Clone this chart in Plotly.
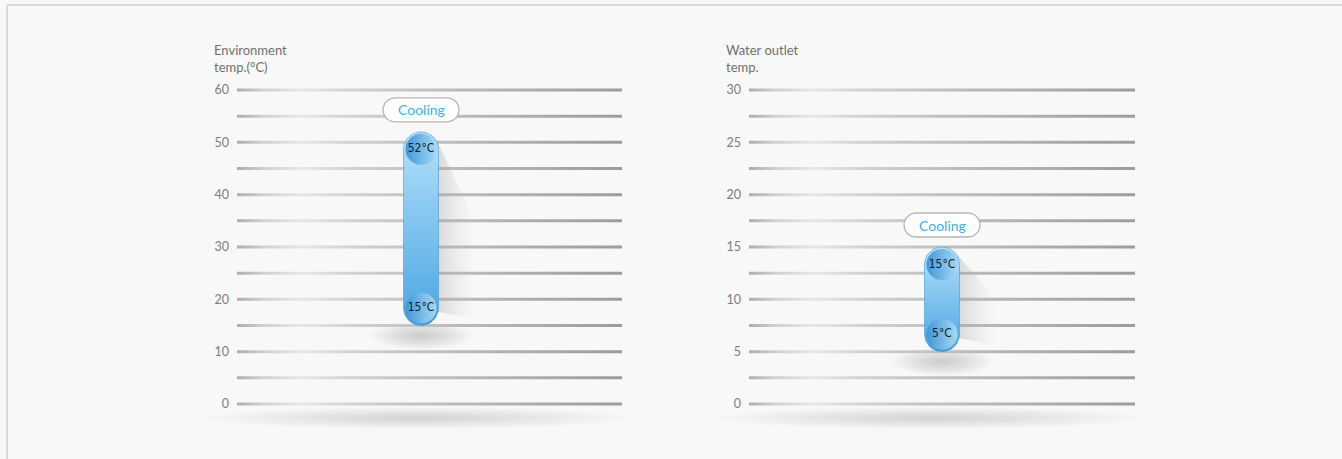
import numpy as np
import plotly.graph_objects as go

# ---------------- data ----------------
axis_titles = ["Environment<br>temp.(°C)", "Water outlet<br>temp."]
mode_labels = ["Cooling", "Cooling"]
low_values = [15, 5]
high_values = [52, 15]
tick_values = [[0, 10, 20, 30, 40, 50, 60], [0, 5, 10, 15, 20, 25, 30]]
grid_steps = [5, 2.5]
axis_max = [60, 30]
unit = "°C"

# ---------------- geometry / style ----------------
W, H = 1342, 459
BG = "#f7f8f7"
plot_left = [237, 749]
plot_right = [622, 1135]
bar_center_px = [421, 942]
Y0_PX, YTOP_PX = 404, 90          # pixel rows of 0 and axis max
DOM_BOT_PX, DOM_TOP_PX = 456, 48  # pixel rows of subplot domain
PILL_R = 17.5
FONT = "Lato"

fig = go.Figure()


def px2paper_x(px):
    return px / W


def px2paper_y(py):
    return 1 - py / H


def add_ellipse_shadow(cx, cy, w, h, layers, alpha, color="120,120,120"):
    for i in range(layers):
        f = 1 - i / layers
        fig.add_shape(type="circle", xref="paper", yref="paper",
                      x0=px2paper_x(cx - w * f / 2), x1=px2paper_x(cx + w * f / 2),
                      y0=px2paper_y(cy + h * f / 2), y1=px2paper_y(cy - h * f / 2),
                      fillcolor=f"rgba({color},{alpha})", line_width=0, layer="below")


layout_axes = {}
for k in range(2):
    xa = "x" if k == 0 else "x2"
    ya = "y" if k == 0 else "y2"
    ppu = (Y0_PX - YTOP_PX) / axis_max[k]
    L = plot_right[k] - plot_left[k]
    ymin = -(DOM_BOT_PX - Y0_PX) / ppu
    ymax = axis_max[k] + (YTOP_PX - DOM_TOP_PX) / ppu
    sfx = "" if k == 0 else "2"
    layout_axes["xaxis" + sfx] = dict(domain=[plot_left[k] / W, plot_right[k] / W], range=[0, L],
                                      visible=False, fixedrange=True, anchor=ya)
    layout_axes["yaxis" + sfx] = dict(domain=[1 - DOM_BOT_PX / H, 1 - DOM_TOP_PX / H], range=[ymin, ymax],
                                      tickvals=tick_values[k], ticktext=[str(v) for v in tick_values[k]],
                                      showgrid=False, zeroline=False, showline=False, ticks="",
                                      ticklabelstandoff=7, anchor=xa,
                                      tickfont=dict(family=FONT, size=12.5, color="#7d7f7d"), fixedrange=True)

    # gradient gridlines
    gx, gy = [], []
    hh = 1.5 / ppu
    for v in np.arange(0, axis_max[k] + 1e-9, grid_steps[k]):
        gx += [0, L, L, 0, 0, None]
        gy += [v - hh, v - hh, v + hh, v + hh, v - hh, None]
    fig.add_trace(go.Scatter(x=gx, y=gy, xaxis=xa, yaxis=ya, mode="lines", fill="toself",
                             line=dict(width=0), hoverinfo="skip", showlegend=False,
                             fillgradient=dict(type="horizontal", colorscale=[
                                 [0, "#abadab"], [0.07, "#d0d2d0"], [0.17, "#e6e7e6"],
                                 [0.3, "#d0d2d0"], [0.55, "#babdba"], [1, "#9a9e9b"]])))

    cx = bar_center_px[k] - plot_left[k]
    lo, hi = low_values[k], high_values[k]
    top_px = Y0_PX - hi * ppu
    bot_px = Y0_PX - lo * ppu
    cx_px = bar_center_px[k]

    # shadow under whole chart
    add_ellipse_shadow((plot_left[k] + plot_right[k]) / 2 - 12, 418, 420, 22, 12, 0.022)
    # shadow under the bar
    add_ellipse_shadow(cx_px, bot_px + 10, 100, 28, 12, 0.03)

    # diagonal cast shadow
    xr = cx + PILL_R - 2
    hpx = bot_px - top_px
    sx = [xr, xr + 40, xr + 40, xr]
    sy = [hi - 8 / ppu, hi - (8 + 0.43 * hpx) / ppu, lo + 6 / ppu, lo + 14 / ppu]
    fig.add_trace(go.Scatter(x=sx + [sx[0]], y=sy + [sy[0]], xaxis=xa, yaxis=ya, mode="lines",
                             fill="toself", line=dict(width=0), hoverinfo="skip", showlegend=False,
                             fillgradient=dict(type="horizontal", colorscale=[
                                 [0, "rgba(150,150,150,0.32)"], [0.5, "rgba(170,170,170,0.15)"],
                                 [1, "rgba(190,190,190,0)"]])))

    # the range pill
    ry = PILL_R / ppu
    t = np.linspace(0, np.pi, 30)
    px_ = np.concatenate([cx + PILL_R * np.cos(t), cx + PILL_R * np.cos(t + np.pi), [cx + PILL_R]])
    py_ = np.concatenate([(hi - ry) + ry * np.sin(t), (lo + ry) + ry * np.sin(t + np.pi), [hi - ry]])
    fig.add_trace(go.Scatter(x=px_, y=py_, xaxis=xa, yaxis=ya, mode="lines", fill="toself",
                             line=dict(width=1, color="rgba(60,150,215,0.55)"),
                             hoverinfo="skip", showlegend=False,
                             fillgradient=dict(type="vertical", colorscale=[
                                 [0, "#3a9bdc"], [0.12, "#55ade5"], [0.5, "#7ec3ef"],
                                 [0.85, "#a4d8f5"], [1, "#b2def7"]])))

    # end circles with labels
    fig.add_trace(go.Scatter(x=[cx, cx], y=[hi - ry, lo + ry], xaxis=xa, yaxis=ya,
                             mode="markers+text", text=[f"{hi}{unit}", f"{lo}{unit}"],
                             textposition="middle center",
                             textfont=dict(family="DejaVu Sans Condensed, DejaVu Sans", size=12, color="#1c1c1c"),
                             marker=dict(size=31, color="#3f98d8", line=dict(width=0),
                                         gradient=dict(type="horizontal", color="#a6d8f4")),
                             hoverinfo="skip", showlegend=False))

    # "Cooling" label pill
    lcy = hi + 22 / ppu
    lw, lr = 38, 12
    lry = lr / ppu
    t2 = np.linspace(-np.pi / 2, np.pi / 2, 20)
    lx = np.concatenate([cx + (lw - lr) + lr * np.cos(t2), cx - (lw - lr) + lr * np.cos(t2 + np.pi)])
    ly = np.concatenate([lcy + lry * np.sin(t2), lcy + lry * np.sin(t2 + np.pi)])
    lx = np.append(lx, lx[0])
    ly = np.append(ly, ly[0])
    fig.add_trace(go.Scatter(x=lx, y=ly, xaxis=xa, yaxis=ya, mode="lines", fill="toself",
                             fillcolor="#ffffff", line=dict(width=1.3, color="#b4b6b4"),
                             hoverinfo="skip", showlegend=False))
    fig.add_annotation(x=cx, y=lcy, xref=xa, yref=ya, text=mode_labels[k], showarrow=False,
                       font=dict(family=FONT, size=14, color="#3ab2e6"))

    # axis title
    fig.add_annotation(x=px2paper_x(plot_left[k] - 25), y=px2paper_y(40), xref="paper", yref="paper",
                       xanchor="left", yanchor="top", align="left", text=axis_titles[k], showarrow=False,
                       font=dict(family=FONT, size=13, color="#6f716f"))

# frame border (top and left)
fig.add_shape(type="line", xref="paper", yref="paper", x0=px2paper_x(7), x1=1,
              y0=px2paper_y(5), y1=px2paper_y(5), line=dict(color="#d9dad9", width=2), layer="below")
fig.add_shape(type="line", xref="paper", yref="paper", x0=px2paper_x(7), x1=px2paper_x(7),
              y0=px2paper_y(5), y1=0, line=dict(color="#d9dad9", width=2), layer="below")

fig.update_layout(width=W, height=H, margin=dict(l=0, r=0, t=0, b=0),
                  paper_bgcolor=BG, plot_bgcolor=BG, showlegend=False, **layout_axes)

fig.write_html("out.html", config={"displayModeBar": False},
               post_script="document.body.style.margin='0';document.body.style.overflow='hidden';"
                           "document.body.style.background='" + BG + "';")
